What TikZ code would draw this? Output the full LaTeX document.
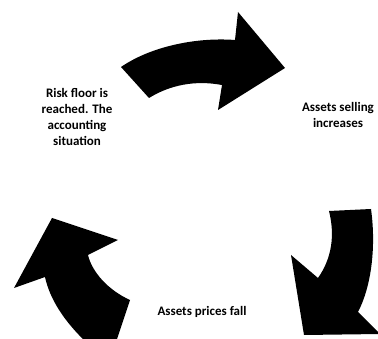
\documentclass[tikz,border=0pt]{standalone}
\usepackage{fontspec}
\setmainfont{Carlito}
\begin{document}
\begin{tikzpicture}[x=1pt,y=-1pt,
  arrowshape/.style={fill=black,draw=none},
  lbl/.style={font=\bfseries\fontsize{13}{16}\selectfont,align=center,inner sep=0pt}]
\useasboundingbox (0,0) rectangle (378,339);
\begin{scope}
\clip (0,0) rectangle (378,339);
% top arrow
\fill[arrowshape] (121,67) .. controls (150,47) and (195,37) .. (235,40)
  -- (238,12) -- (285,68) -- (218,110) -- (222,85)
  .. controls (195,80) and (170,85) .. (149,98) -- cycle;
% right arrow
\fill[arrowshape] (329,211) -- (371,209)
  .. controls (376,245) and (372,285) .. (358,312)
  -- (380,334) -- (304,335) -- (291,255) -- (318,278)
  .. controls (332,258) and (335,235) .. (329,211) -- cycle;
% left arrow
\fill[arrowshape] (130,300) -- (116,342) -- (86,342)
  .. controls (65,322) and (50,300) .. (45,277)
  -- (14,288) -- (52,218) -- (118,240) -- (88,255)
  .. controls (92,272) and (108,290) .. (130,300) -- cycle;
\end{scope}
\node[lbl] (risk) at (77,117) {Risk floor is\\reached. The\\accounting\\situation};
\node[lbl] (sell) at (338,115) {Assets selling\\increases};
\node[lbl] (fall) at (202,312) {Assets prices fall};
\end{tikzpicture}
\end{document}
